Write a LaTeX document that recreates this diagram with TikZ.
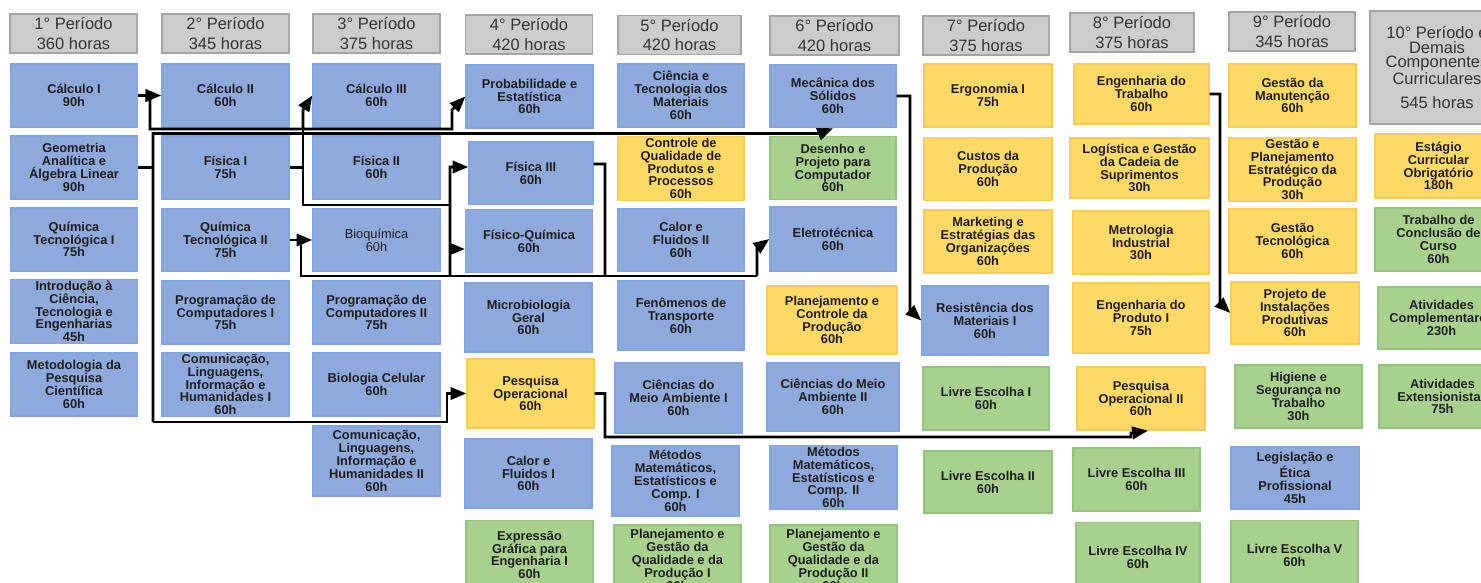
\documentclass[tikz,border=0pt]{standalone}
\usepackage{fontspec}
\setmainfont{Liberation Sans}
\usepackage{xcolor}
\usetikzlibrary{arrows.meta,positioning}

\definecolor{azulfill}{HTML}{8EA9DB}
\definecolor{azulborda}{HTML}{7FA6E3}
\definecolor{amarfill}{HTML}{FFD966}
\definecolor{amarborda}{HTML}{F7CB55}
\definecolor{verdefill}{HTML}{A9D18E}
\definecolor{verdeborda}{HTML}{93C47D}
\definecolor{cinzafill}{HTML}{CCCCCC}
\definecolor{cinzaborda}{HTML}{A5A5A5}
\definecolor{textocor}{HTML}{1E1E1E}

\newcommand{\discfont}{\fontsize{7.3}{7.3}\selectfont\bfseries}
\newcommand{\perfont}{\fontsize{9.4}{11}\selectfont}

\begin{document}
\begin{tikzpicture}[x=0.02cm,y=-0.02cm,
  disc/.style={draw,line width=0.8pt,minimum width=2.54cm,minimum height=1.26cm,
    inner sep=1pt,align=center,font=\discfont,text=textocor},
  azul/.style={disc,fill=azulfill,draw=azulborda},
  amarelo/.style={disc,fill=amarfill,draw=amarborda},
  verde/.style={disc,fill=verdefill,draw=verdeborda},
  alta/.style={minimum height=1.38cm},
  periodo/.style={draw=cinzaborda,fill=cinzafill,line width=1pt,minimum width=2.54cm,
    minimum height=0.78cm,inner sep=0pt,align=center,font=\perfont,text=textocor!90},
  linha/.style={line width=1.6pt},
  seta/.style={linha,-{Triangle[length=9pt,width=7pt]}}]
  \useasboundingbox (0,0) rectangle (1481,582);
  \clip (0,0) rectangle (1481,582);

  % periodos
  \node[periodo] (p1) at (73.5,33.5) {1° Período\\360 horas};
  \node[periodo] (p2) at (225.5,33.5) {2° Período\\345 horas};
  \node[periodo] (p3) at (376.5,33.5) {3° Período\\375 horas};
  \node[periodo] (p4) at (529,34.5) {4° Período\\420 horas};
  \node[periodo,minimum width=2.46cm] (p5) at (679.5,35) {5° Período\\420 horas};
  \node[periodo,minimum width=2.58cm] (p6) at (834.5,35.5) {6° Período\\420 horas};
  \node[periodo,minimum width=2.52cm] (p7) at (986,35.5) {7° Período\\375 horas};
  \node[periodo,minimum width=2.48cm] (p8) at (1132,32.5) {8° Período\\375 horas};
  \node[periodo,minimum width=2.52cm] (p9) at (1292,31.5) {9° Período\\345 horas};
  \node[periodo,minimum width=2.68cm,minimum height=2.26cm,font=\fontsize{9.4}{8.3}\selectfont]
    (p10) at (1437,67.5) {10° Período e\\Demais\\Componentes\\Curriculares\\[5pt]545 horas};

  % 1o periodo
  \node[azul] (calc1) at (74,95.5) {Cálculo I\\90h};
  \node[azul] (geo) at (74,167.5) {Geometria\\Analítica e\\Álgebra Linear\\90h};
  \node[azul] (qt1) at (74,239.5) {Química\\Tecnológica I\\75h};
  \node[azul] (intro) at (74,311.5) {Introdução à\\Ciência,\\Tecnologia e\\Engenharias\\45h};
  \node[azul] (metod) at (74,384.5) {Metodologia da\\Pesquisa\\Científica\\60h};

  % 2o periodo
  \node[azul] (calc2) at (225.5,95.5) {Cálculo II\\60h};
  \node[azul] (fis1) at (225.5,167.5) {Física I\\75h};
  \node[azul] (qt2) at (225.5,240) {Química\\Tecnológica II\\75h};
  \node[azul] (prog1) at (225.5,312.5) {Programação de\\Computadores I\\75h};
  \node[azul] (com1) at (225.5,384.5) {Comunicação,\\Linguagens,\\Informação e\\Humanidades I\\60h};

  % 3o periodo
  \node[azul] (calc3) at (376.5,95.5) {Cálculo III\\60h};
  \node[azul] (fis2) at (376.5,167.5) {Física II\\60h};
  \node[azul,font=\fontsize{7.3}{7.3}\selectfont] (bioq) at (376.5,240) {Bioquímica\\60h};
  \node[azul] (prog2) at (376.5,312.5) {Programação de\\Computadores II\\75h};
  \node[azul] (biocel) at (376.5,384.5) {Biologia Celular\\60h};
  \node[azul,minimum height=1.4cm] (com2) at (376.5,461) {Comunicação,\\Linguagens,\\Informação e\\Humanidades II\\60h};

  % 4o periodo
  \node[azul] (prob) at (529.5,96.5) {Probabilidade e\\Estatística\\60h};
  \node[azul,minimum width=2.48cm,minimum height=1.24cm] (fis3) at (531,173) {Física III\\60h};
  \node[azul] (fq) at (529,241) {Físico-Química\\60h};
  \node[azul,alta] (micro) at (528.5,317.5) {Microbiologia\\Geral\\60h};
  \node[amarelo,alta] (po1) at (530.5,393.5) {Pesquisa\\Operacional\\60h};
  \node[azul,alta] (cf1) at (528.5,473.5) {Calor e\\Fluidos I\\60h};
  \node[verde,alta] (expr) at (529.5,555) {Expressão\\Gráfica para\\Engenharia I\\60h};

  % 5o periodo
  \node[azul,minimum width=2.52cm] (ctm) at (681,95.5) {Ciência e\\Tecnologia dos\\Materiais\\60h};
  \node[amarelo,minimum width=2.52cm] (cq) at (681,168.5) {Controle de\\Qualidade de\\Produtos e\\Processos\\60h};
  \node[azul,minimum width=2.52cm] (cf2) at (681,240) {Calor e\\Fluidos II\\60h};
  \node[azul,minimum width=2.52cm,alta] (fen) at (681,315.5) {Fenômenos de\\Transporte\\60h};
  \node[azul,minimum height=1.4cm] (cma1) at (678.5,398) {Ciências do\\Meio Ambiente I\\60h};
  \node[azul,minimum height=1.4cm] (mm1) at (675.5,481) {Métodos\\Matemáticos,\\Estatísticos e\\Comp. I\\60h};
  \node[verde,minimum height=1.4cm] (pgq1) at (677.5,560) {Planejamento e\\Gestão da\\Qualidade e da\\Produção I\\60h};

  % 6o periodo
  \node[azul,minimum width=2.52cm] (mec) at (833,96) {Mecânica dos\\Sólidos\\60h};
  \node[verde,minimum width=2.52cm] (dpc) at (833,168) {Desenho e\\Projeto para\\Computador\\60h};
  \node[azul,minimum width=2.52cm,minimum height=1.28cm] (elet) at (833,239) {Eletrotécnica\\60h};
  \node[amarelo,minimum width=2.6cm,minimum height=1.36cm] (pcp) at (832,320) {Planejamento e\\Controle da\\Produção\\60h};
  \node[azul,minimum width=2.64cm,minimum height=1.36cm] (cma2) at (833,397) {Ciências do Meio\\Ambiente II\\60h};
  \node[azul] (mm2) at (833.5,477.5) {Métodos\\Matemáticos,\\Estatísticos e\\Comp. II\\60h};
  \node[verde,minimum height=1.4cm] (pgq2) at (833.5,560) {Planejamento e\\Gestão da\\Qualidade e da\\Produção II\\60h};

  % 7o periodo
  \node[amarelo,minimum width=2.56cm] (ergo) at (988,95.5) {Ergonomia I\\75h};
  \node[amarelo,minimum width=2.56cm] (custos) at (988,169) {Custos da\\Produção\\60h};
  \node[amarelo,minimum width=2.56cm] (mkt) at (988,241.5) {Marketing e\\Estratégias das\\Organizações\\60h};
  \node[azul,minimum width=2.52cm,alta] (resmat) at (985,320.5) {Resistência dos\\Materiais I\\60h};
  \node[verde,minimum width=2.52cm] (le1) at (986,398.5) {Livre Escolha I\\60h};
  \node[verde,minimum width=2.56cm,minimum height=1.24cm] (le2) at (988,482) {Livre Escolha II\\60h};

  % 8o periodo
  \node[amarelo,minimum width=2.7cm,minimum height=1.2cm] (engtrab) at (1141.5,94) {Engenharia do\\Trabalho\\60h};
  \node[amarelo,minimum width=2.78cm,minimum height=1.2cm] (logist) at (1139.5,168) {Logística e Gestão\\da Cadeia de\\Suprimentos\\30h};
  \node[amarelo,minimum width=2.72cm] (metro) at (1141,242.5) {Metrologia\\Industrial\\30h};
  \node[amarelo,minimum width=2.72cm,minimum height=1.4cm] (engprod) at (1141,318) {Engenharia do\\Produto I\\75h};
  \node[amarelo,minimum width=2.56cm] (po2) at (1141,398.5) {Pesquisa\\Operacional II\\60h};
  \node[verde] (le3) at (1136.5,479.5) {Livre Escolha III\\60h};
  \node[verde,minimum width=2.48cm,alta] (le4) at (1138,557) {Livre Escolha IV\\60h};

  % 9o periodo
  \node[amarelo] (gman) at (1292.5,95.5) {Gestão da\\Manutenção\\60h};
  \node[amarelo] (gpe) at (1292.5,169.5) {Gestão e\\Planejamento\\Estratégico da\\Produção\\30h};
  \node[amarelo,minimum height=1.28cm] (gtec) at (1292.5,241) {Gestão\\Tecnológica\\60h};
  \node[amarelo,minimum width=2.56cm,minimum height=1.24cm] (projinst) at (1295,313) {Projeto de\\Instalações\\Produtivas\\60h};
  \node[verde] (hig) at (1298.5,396.5) {Higiene e\\Segurança no\\Trabalho\\30h};
  \node[azul,minimum width=2.56cm,minimum height=1.24cm] (leg) at (1295,478) {Legislação e\\Ética\\Profissional\\45h};
  \node[verde,alta] (le5) at (1294.5,555) {Livre Escolha V\\60h};

  % 10o periodo e demais
  \node[amarelo,minimum height=1.28cm] (estag) at (1438.5,166) {Estágio\\Curricular\\Obrigatório\\180h};
  \node[verde] (tcc) at (1438.5,239.5) {Trabalho de\\Conclusão de\\Curso\\60h};
  \node[verde,minimum height=1.24cm] (ativc) at (1441.5,318) {Atividades\\Complementares\\230h};
  \node[verde] (ative) at (1442.5,396.5) {Atividades\\Extensionistas\\75h};

  % pre-requisitos
  \coordinate (c1) at (150,95.5);
  \coordinate (c2) at (303,129);
  \coordinate (g1) at (153,422);
  \coordinate (f1) at (303,110);
  \coordinate (f2) at (450,276);
  \coordinate (q1) at (301,240);
  \coordinate (e1) at (757,276);

  \draw[seta] (calc1) -- (calc2);
  \draw[seta] (c1) -- (150,129) -- (452,129) -- (452,110) -- (prob.west);
  \draw[seta] (c2) -- (303,110) -- (calc3.west);

  \draw[linha] (geo.east) -- (153,167.5);
  \draw[seta] (g1) -- (153,133.5) -- (820,133.5) -- (mec.south);
  \draw[seta] (g1) -- (447,422) |- (po1.west);

  \draw[linha] (fis1.east) -- (303,167.5);
  \draw[linha] (f1) -- (303,205) -- (450,205);
  \draw[seta] (f2) -- (450,167) -- ([yshift=0.12cm]fis3.west);
  \draw[seta] (450,249) -- ([yshift=-0.16cm]fq.west);

  \draw[seta] (qt2) -- (bioq);
  \draw[linha] (q1) -- (301,276) -- (e1);
  \draw[seta] (e1) -- (757,248) -- (elet.west);
  \draw[linha] ([yshift=0.18cm]fis3.east) -- (605,164) -- (605,276);

  \draw[seta] (po1.east) -- (605,393.5) -- (605,437) -- (1131,437) -- (1131,433) -- ([xshift=0.14cm]po2.south);
  \draw[seta] (mec.east) -- (910,96) -- (910,310) -- (resmat.west);
  \draw[seta] (engtrab.east) -- (1220,94) -- (1220,303) -- (projinst.west);
\end{tikzpicture}
\end{document}
